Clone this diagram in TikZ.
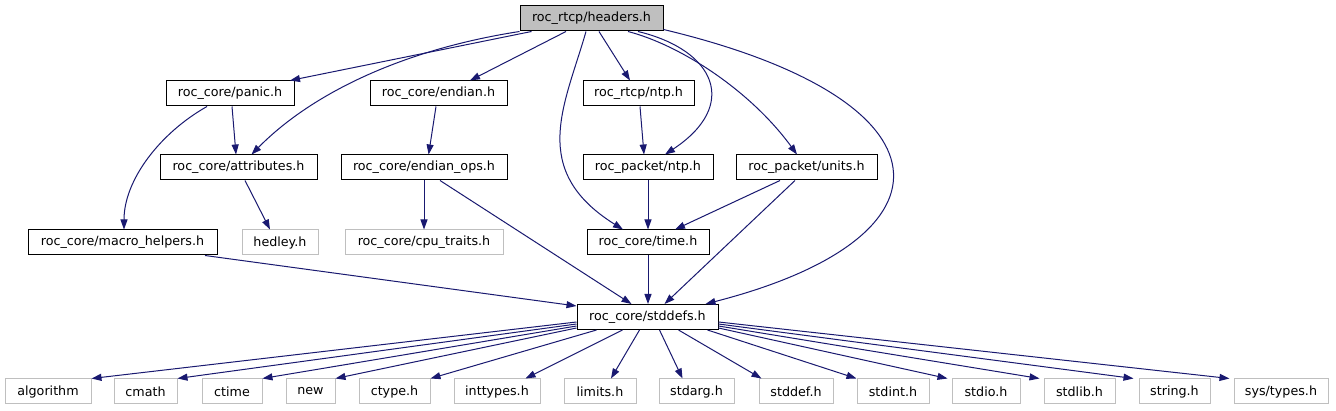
\documentclass[tikz,border=0pt]{standalone}
\usepackage{fontspec}
\setmainfont{DejaVu Sans}
\usetikzlibrary{arrows.meta}
\definecolor{edgec}{HTML}{191970}
\definecolor{hdfill}{HTML}{BFBFBF}
\definecolor{extc}{HTML}{BFBFBF}
\begin{document}
\begin{tikzpicture}[x=1pt,y=-1pt,
  box/.style={draw=black,line width=1pt,fill=white,inner sep=0pt,minimum height=25pt,font=\fontsize{12.7}{15}\selectfont},
  ext/.style={box,draw=extc},
  e/.style={draw=edgec,line width=1pt,-{Triangle[length=10pt,width=7pt]}}]
\useasboundingbox (0,0) rectangle (1336,411);
\fill[white] (0,0) rectangle (1336,411);
% nodes
\node[box,fill=hdfill,minimum width=143pt] (hd) at (591.5,18.5) {roc\_rtcp/headers.h};
\node[box,minimum width=128pt] (pa) at (230,93.5) {roc\_core/panic.h};
\node[box,minimum width=137pt] (en) at (438.5,93.5) {roc\_core/endian.h};
\node[box,minimum width=111pt] (rn) at (638.5,93.5) {roc\_rtcp/ntp.h};
\node[box,minimum width=157pt] (atr) at (238.5,167.5) {roc\_core/attributes.h};
\node[box,minimum width=166pt] (eo) at (424,167.5) {roc\_core/endian\_ops.h};
\node[box,minimum width=130pt] (pn) at (648,167.5) {roc\_packet/ntp.h};
\node[box,minimum width=141pt] (un) at (806.5,167.5) {roc\_packet/units.h};
\node[box,minimum width=189pt] (mh) at (122.5,242.5) {roc\_core/macro\_helpers.h};
\node[ext,minimum width=76pt] (he) at (280,242.5) {hedley.h};
\node[ext,minimum width=158pt] (cp) at (424,242.5) {roc\_core/cpu\_traits.h};
\node[box,minimum width=122pt] (tm) at (648,242.5) {roc\_core/time.h};
\node[box,minimum width=141pt] (sd) at (647.5,317) {roc\_core/stddefs.h};
\node[ext,minimum width=86pt] (alg) at (48,391.5) {algorithm};
\node[ext,minimum width=63pt] (cm) at (145.5,391.5) {cmath};
\node[ext,minimum width=60pt] (ct) at (232,391.5) {ctime};
\node[ext,minimum width=49pt] (nw) at (310.5,391.5) {new};
\node[ext,minimum width=71pt] (cy) at (394.5,391.5) {ctype.h};
\node[ext,minimum width=86pt] (it) at (497,391.5) {inttypes.h};
\node[ext,minimum width=72pt] (lm) at (600,391.5) {limits.h};
\node[ext,minimum width=75pt] (sa) at (696.5,391.5) {stdarg.h};
\node[ext,minimum width=74pt] (sf) at (796,391.5) {stddef.h};
\node[ext,minimum width=72pt] (si) at (893,391.5) {stdint.h};
\node[ext,minimum width=68pt] (so) at (986,391.5) {stdio.h};
\node[ext,minimum width=71pt] (sl) at (1079.5,391.5) {stdlib.h};
\node[ext,minimum width=71pt] (sg) at (1174.5,391.5) {string.h};
\node[ext,minimum width=94pt] (st) at (1281,391.5) {sys/types.h};
% edges from headers
\draw[e] ([xshift=12pt]hd.south west) -- ([xshift=60pt]pa.north);
\draw[e] (hd.south west) .. controls (400,50) and (310,95) .. ([xshift=13pt]atr.north);
\draw[e] ([xshift=-25.5pt]hd.south) -- ([xshift=31.5pt]en.north);
\draw[e] ([xshift=-5.5pt]hd.south) .. controls (565,105) and (528,170) .. ([xshift=-25pt]tm.north);
\draw[e] ([xshift=7.5pt]hd.south) -- ([xshift=-8.5pt]rn.north);
\draw[e] ([xshift=46.5pt]hd.south) .. controls (715,50) and (740,105) .. ([xshift=17pt]pn.north);
\draw[e] ([xshift=36.5pt]hd.south) .. controls (680,45) and (750,90) .. ([xshift=-9.5pt]un.north);
\draw[e] ([yshift=2pt]hd.south east) .. controls (959,100) and (963,238) .. ([xshift=-13pt]sd.north east);
% middle edges
\draw[e] ([xshift=2pt]pa.south) -- ([xshift=-2.5pt]atr.north);
\draw[e] ([xshift=-23pt]pa.south) .. controls (160,133) and (124,180) .. ([xshift=1.5pt]mh.north);
\draw[e] ([xshift=6.5pt]atr.south) -- ([xshift=-10pt]he.north);
\draw[e] ([xshift=-2.5pt]en.south) -- ([xshift=4.6pt]eo.north);
\draw[e] (eo.south) -- (cp.north);
\draw[e] ([xshift=16pt]eo.south) -- ([xshift=-16pt]sd.north);
\draw[e] ([xshift=1.5pt]rn.south) -- ([xshift=-4pt]pn.north);
\draw[e] (pn.south) -- (tm.north);
\draw[e] ([xshift=-26.5pt]un.south) -- ([xshift=27pt]tm.north);
\draw[e] ([xshift=-11.5pt]un.south) -- ([xshift=17pt]sd.north);
\draw[e] (tm.south) -- (tm.south |- sd.north);
\draw[e] ([xshift=82.5pt]mh.south) -- ([yshift=-2pt]sd.north west);
% bottom edges
\draw[e] ([yshift=8pt]sd.south west) -- (alg.north east);
\draw[e] ([yshift=6pt]sd.south west) -- (cm.north east);
\draw[e] ([yshift=4pt]sd.south west) -- (ct.north east);
\draw[e] ([yshift=2pt]sd.south west) -- (nw.north east);
\draw[e] ([xshift=20pt]sd.south west) -- (cy.north east);
\draw[e] ([xshift=46pt]sd.south west) -- ([xshift=-15pt]it.north east);
\draw[e] ([xshift=63pt]sd.south west) -- ([xshift=11pt]lm.north);
\draw[e] ([xshift=83pt]sd.south west) -- ([xshift=-14pt]sa.north);
\draw[e] ([xshift=102pt]sd.south west) -- ([xshift=3pt]sf.north west);
\draw[e] ([xshift=-11pt]sd.south east) -- (si.north west);
\draw[e] ([yshift=2pt]sd.south east) -- ([xshift=-4pt]so.north west);
\draw[e] ([yshift=4pt]sd.south east) -- ([xshift=-4pt]sl.north west);
\draw[e] ([yshift=6pt]sd.south east) -- ([xshift=-5pt]sg.north west);
\draw[e] ([yshift=8pt]sd.south east) -- ([xshift=-4pt]st.north west);
\end{tikzpicture}
\end{document}
